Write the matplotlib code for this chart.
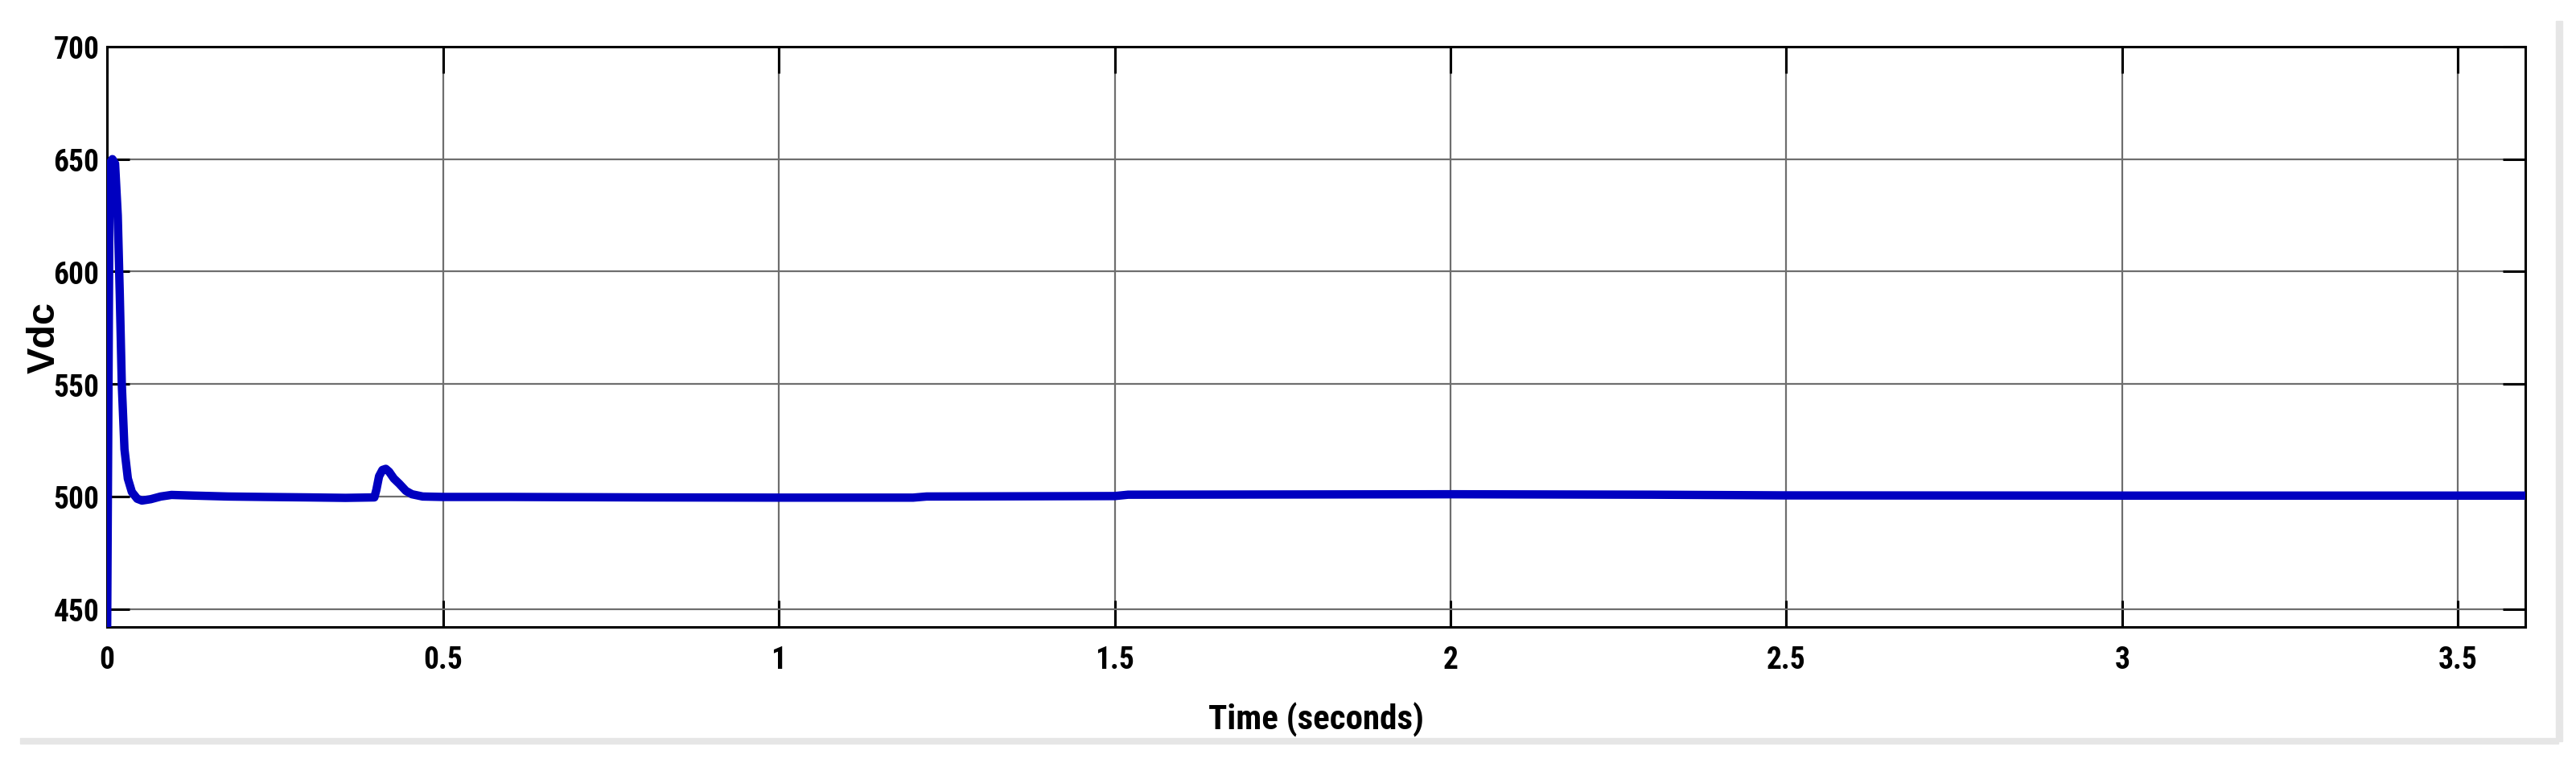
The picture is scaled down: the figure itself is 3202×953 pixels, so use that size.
from matplotlib import pyplot as plt
from matplotlib.patches import Rectangle

# time (s) and dc link voltage (V)
time = [0.000, 0.004, 0.008, 0.012, 0.016, 0.019, 0.022, 0.026, 0.031, 0.037,
        0.045, 0.052, 0.065, 0.080, 0.096, 0.130, 0.180, 0.235, 0.300, 0.355,
        0.398, 0.401, 0.405, 0.410, 0.415, 0.420, 0.427, 0.435, 0.445, 0.454,
        0.470, 0.500, 0.600, 0.800, 1.000, 1.200, 1.220, 1.500, 1.520, 2.000,
        2.300, 2.500, 3.000, 3.600]
vdc = [430.0, 648.0, 650.0, 648.0, 625.0, 590.0, 550.0, 521.0, 508.0, 502.0,
       499.0, 498.2, 498.8, 500.0, 500.7, 500.4, 500.0, 499.8, 499.6, 499.4,
       499.6, 503.0, 509.0, 511.8, 512.3, 511.0, 508.0, 505.7, 502.5, 501.0,
       500.0, 499.8, 499.8, 499.6, 499.5, 499.5, 500.0, 500.2, 500.8, 501.0,
       500.8, 500.5, 500.4, 500.4]

x_ticks = [0, 0.5, 1, 1.5, 2, 2.5, 3, 3.5]
x_tick_labels = ["0", "0.5", "1", "1.5", "2", "2.5", "3", "3.5"]
y_ticks = [450, 500, 550, 600, 650, 700]

# narrow bold labels like the scope export
plt.rcParams["font.family"] = ["Roboto Condensed", "Liberation Sans", "DejaVu Sans"]
plt.rcParams["font.weight"] = "bold"

fig = plt.figure(figsize=(32.02, 9.54), dpi=100)
ax = fig.add_axes([0.04154, 0.18239, 0.93878, 0.75577])

# the curve
ax.plot(time, vdc, color="#0000c0", linewidth=7.5, solid_joinstyle="round", zorder=3)

ax.set_xlim(0, 3.6)
ax.set_ylim(442, 700)
ax.set_xticks(x_ticks)
ax.set_xticklabels(x_tick_labels)
ax.set_yticks(y_ticks)

# grid and ticks like the simulink scope
ax.grid(True, color="#6e6e6e", linewidth=1.6, zorder=1)
ax.set_axisbelow(True)
ax.tick_params(axis="both", direction="in", width=2.2, color="black",
               labelsize=27, top=True, right=True)
ax.tick_params(axis="x", length=24, pad=16)
ax.tick_params(axis="y", length=20, pad=7)
for spine in ax.spines.values():
    spine.set_linewidth(2.2)

ax.set_xlabel("Time (seconds)", fontsize=31, fontweight="bold", labelpad=24)
ax.set_ylabel("Vdc", fontsize=35, fontweight="bold", labelpad=-8,
              family=["Liberation Sans", "DejaVu Sans"])

# light grey shadow on the right and bottom of the exported picture
fig.add_artist(Rectangle((25 / 3202, (954 - 925) / 954), (3180 - 25) / 3202, 7 / 954,
                         transform=fig.transFigure, color="#e6e6e6", zorder=0))
fig.add_artist(Rectangle((3177 / 3202, (954 - 922) / 954), 8 / 3202, (922 - 27) / 954,
                         transform=fig.transFigure, color="#e6e6e6", zorder=0))

plt.savefig("out.png", dpi=100)
